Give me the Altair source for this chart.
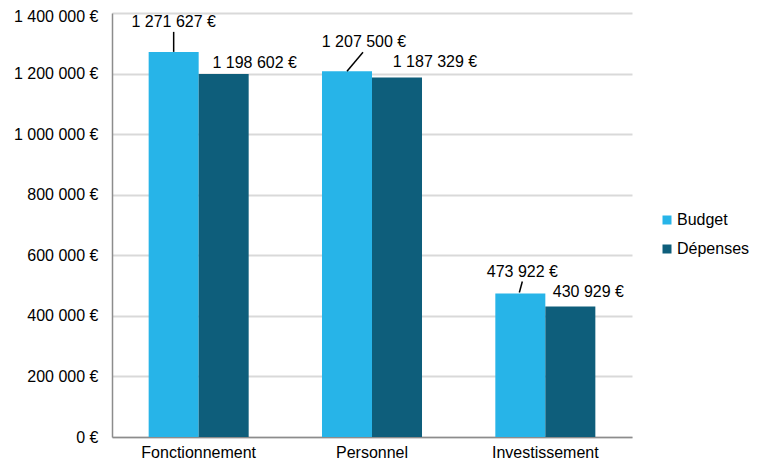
import altair as alt
import pandas as pd

categories = ["Fonctionnement", "Personnel", "Investissement"]
series = ["Budget", "Dépenses"]
budget = [1271627, 1207500, 473922]
depenses = [1198602, 1187329, 430929]
y_ticks = [0, 200000, 400000, 600000, 800000, 1000000, 1200000, 1400000]
colors = ["#27B4E8", "#0E5E7B"]

rows = []
for c, b, d in zip(categories, budget, depenses):
    rows.append({"categorie": c, "serie": "Budget", "montant": b})
    rows.append({"categorie": c, "serie": "Dépenses", "montant": d})
df = pd.DataFrame(rows)
df["etiquette"] = df["montant"].map(lambda v: f"{v:,}".replace(",", " ") + " €")

FONT = "Liberation Sans"
FS = 16

xscale = alt.Scale(paddingInner=0.423, paddingOuter=0.2115)
xaxis = alt.Axis(title=None, labelAngle=0, ticks=False, grid=False, domainColor="#8C8C8C",
                 domainWidth=1.5, labelPadding=7, labelFontSize=FS, labelFont=FONT,
                 labelColor="black")
yscale = alt.Scale(domain=[0, 1400000])
yaxis = alt.Axis(title=None, values=y_ticks, ticks=False, grid=True, gridColor="#D9D9D9",
                 gridWidth=2, domainColor="#8C8C8C", domainWidth=1.5, labelPadding=14,
                 labelFontSize=FS, labelFont=FONT, labelColor="black",
                 labelOffset={"condition": {"test": "datum.value == 1400000", "value": 3},
                              "value": 0},
                 labelExpr="replace(format(datum.value, ',.0f'), /,/g, ' ') + ' €'")

base = alt.Chart(df)

bars = base.mark_bar().encode(
    x=alt.X("categorie:N", sort=categories, scale=xscale, axis=xaxis),
    xOffset=alt.XOffset("serie:N", sort=series),
    y=alt.Y("montant:Q", scale=yscale, axis=yaxis),
    color=alt.Color("serie:N", sort=series,
                    scale=alt.Scale(domain=series, range=colors),
                    legend=alt.Legend(title=None, orient="none", legendX=547, legendY=199,
                                      symbolType="square", symbolSize=81, symbolStrokeWidth=0,
                                      labelFontSize=FS, labelFont=FONT, labelColor="black",
                                      labelOffset=2, rowPadding=13)),
)

# label placement (pixel offsets from category centre), per bar
label_pos = {
    ("Fonctionnement", "Budget"): (-25, -30),
    ("Personnel", "Budget"): (-8, -29),
    ("Investissement", "Budget"): (-23, -21),
    ("Fonctionnement", "Dépenses"): (56, -11),
    ("Personnel", "Dépenses"): (63, -15),
    ("Investissement", "Dépenses"): (43, -14),
}
leaders = {
    "Fonctionnement": (-25, 0, -25, -20),
    "Personnel": (-25, 0, -9, -19),
    "Investissement": (-26, -1, -23, -12),
}

layers = [bars]
for (cat, ser), (dx, dy) in label_pos.items():
    layers.append(
        base.transform_filter(
            (alt.datum.categorie == cat) & (alt.datum.serie == ser)
        ).mark_text(xOffset=dx, yOffset=dy, align="center", baseline="middle",
                    fontSize=FS, font=FONT, color="black").encode(
            x=alt.X("categorie:N", sort=categories),
            y=alt.Y("montant:Q"),
            text="etiquette:N",
        )
    )
for cat, (x1, y1, x2, y2) in leaders.items():
    layers.append(
        base.transform_filter(
            (alt.datum.categorie == cat) & (alt.datum.serie == "Budget")
        ).mark_rule(xOffset=x1, yOffset=y1, x2Offset=x2, y2Offset=y2,
                    color="black", strokeWidth=1.5).encode(
            x=alt.X("categorie:N", sort=categories, bandPosition=0.5),
            x2=alt.X2("categorie", bandPosition=0.5),
            y=alt.Y("montant:Q"),
            y2=alt.Y2("montant"),
        )
    )

chart = alt.layer(*layers).properties(
    width=520, height=424,
    padding={"left": 104, "top": 5, "right": 126, "bottom": 25},
    autosize=alt.AutoSizeParams(type="none"),
).configure_view(stroke="transparent")

chart.save("out.html", embed_options={"renderer": "svg", "actions": False})
